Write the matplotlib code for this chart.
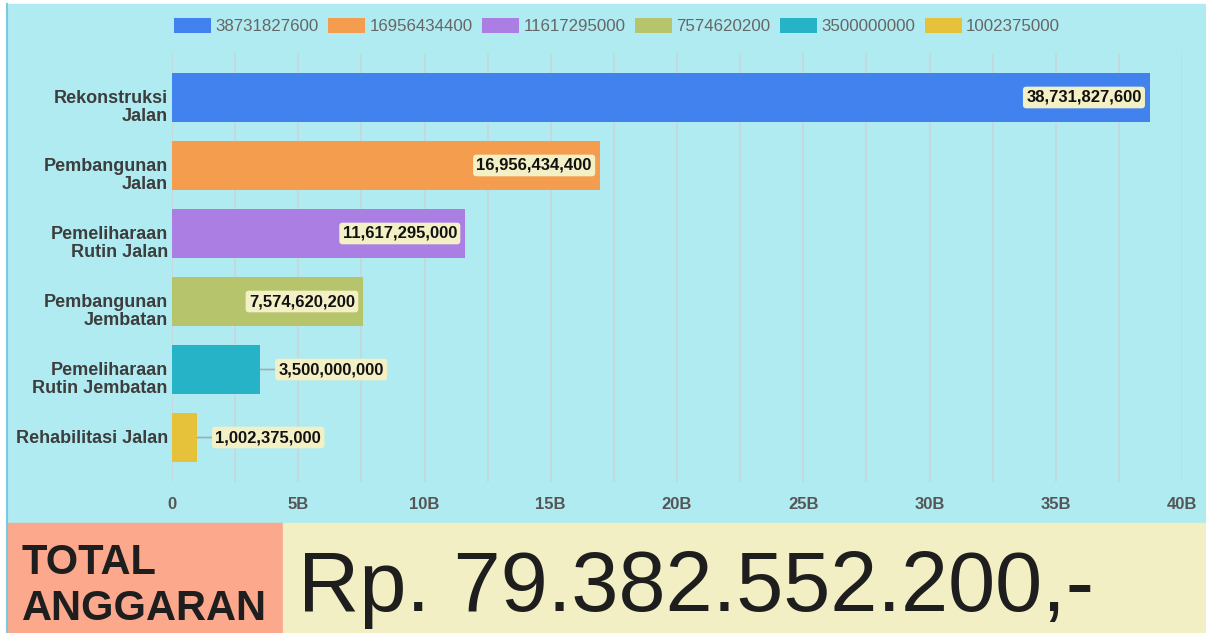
import matplotlib
matplotlib.use("Agg")
import matplotlib.pyplot as plt
from matplotlib.patches import Rectangle
from matplotlib.lines import Line2D
from matplotlib.ticker import FuncFormatter, MultipleLocator

plt.rcParams['font.family'] = ['Liberation Sans', 'DejaVu Sans']

categories = ["Rekonstruksi\nJalan", "Pembangunan\nJalan", "Pemeliharaan\nRutin Jalan",
              "Pembangunan\nJembatan", "Pemeliharaan\nRutin Jembatan", "Rehabilitasi Jalan"]
values = [38731827600, 16956434400, 11617295000, 7574620200, 3500000000, 1002375000]
colors = ["#4282EE", "#F59D4E", "#AB7EE3", "#B6C46B", "#27B3C7", "#E6C13A"]
total_label = "Rp. 79.382.552.200,-"

W, H = 1206, 633
fig = plt.figure(figsize=(W / 100, H / 100), dpi=100)

# backgrounds (figure coords from pixel positions)
fig.patches.append(Rectangle((7 / W, 1 - 523 / H), (W - 7) / W, 519 / H,
                             transform=fig.transFigure, color="#AFEBF1", zorder=-10))
fig.patches.append(Rectangle((8 / W, 0), 275 / W, 110 / H,
                             transform=fig.transFigure, color="#FBA88D", zorder=-10))
fig.patches.append(Rectangle((283 / W, 0), (W - 283) / W, 110 / H,
                             transform=fig.transFigure, color="#F1EFC3", zorder=-10))
fig.lines.append(Line2D([7 / W, 7 / W], [0, 1 - 4 / H], transform=fig.transFigure,
                        color="#7CC9E2", lw=1.5, zorder=-9))

ax = fig.add_axes([172 / W, 1 - 482 / H, (1182 - 172) / W, (482 - 53) / H])
ax.set_facecolor("none")

for i, (v, c) in enumerate(zip(values, colors)):
    ax.barh(i, v, height=0.72, color=c, label=str(v), zorder=2)
    txt = f"{v:,}"
    box = dict(boxstyle="round,pad=0.2,rounding_size=0.2", fc="#F3F0C6", ec="none")
    if v > 5e9:
        ax.annotate(txt, xy=(v, i), xytext=(-6, 0), textcoords="offset points",
                    ha="right", va="center", fontsize=12, fontweight="bold",
                    color="#111111", bbox=box, zorder=4)
    else:
        ax.annotate(txt, xy=(v, i), xytext=(13, 0), textcoords="offset points",
                    ha="left", va="center", fontsize=12, fontweight="bold",
                    color="#111111", bbox=box, zorder=4,
                    arrowprops=dict(arrowstyle="-", color="#9AAFB2", lw=1.2,
                                    shrinkA=0, shrinkB=0))
    # category label: first line centred on the bar, the rest below
    ax.annotate(categories[i], xy=(0, i), xycoords=("axes fraction", "data"),
                xytext=(-3, 5.6), textcoords="offset points", ha="right", va="top",
                fontsize=13, fontweight="bold", color="#3D3D3D", linespacing=1.1)

ax.set_xlim(0, 40e9)
ax.set_ylim(5.654, -0.654)
ax.xaxis.set_major_locator(MultipleLocator(5e9))
ax.xaxis.set_minor_locator(MultipleLocator(2.5e9))
ax.xaxis.set_major_formatter(FuncFormatter(lambda x, p: "0" if x == 0 else f"{x / 1e9:.0f}B"))
ax.grid(axis="x", which="both", color="#C6D6D9", lw=1.2, zorder=1)
ax.set_axisbelow(True)
for s in ax.spines.values():
    s.set_visible(False)
ax.tick_params(axis="x", which="both", length=0, pad=11, labelsize=12,
               labelcolor="#555555")
for t in ax.get_xticklabels():
    t.set_fontweight("bold")
ax.set_yticks([])

fig.legend(loc="center", bbox_to_anchor=(617 / W, 1 - 26 / H), ncol=6, frameon=False,
           fontsize=12.2, labelcolor="#666666", handlelength=2.2, handleheight=1.0,
           handletextpad=0.25, columnspacing=0.55)

fig.text(22 / W, 1 - 620 / H, "TOTAL\nANGGARAN", fontsize=30, fontweight="bold",
         color="#1E1E1E", ha="left", va="baseline", linespacing=1.2)
fig.text(298 / W, 1 - 611 / H, total_label, fontsize=61, color="#1E1E1E",
         ha="left", va="baseline")

fig.savefig("out.png", dpi=100)
